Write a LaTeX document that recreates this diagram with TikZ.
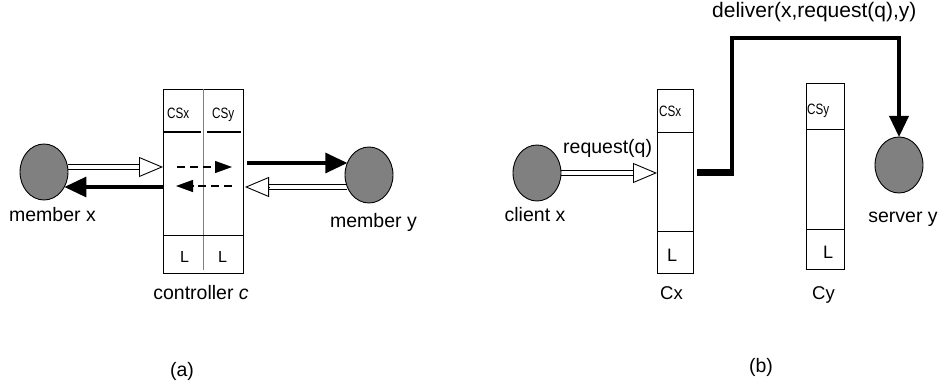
\documentclass[tikz,border=0pt]{standalone}
\usepackage{fontspec}
\setmainfont{Liberation Sans}
\newfontfamily\condfont[FakeStretch=0.78]{Liberation Sans}
\usetikzlibrary{arrows.meta,calc,shapes.geometric}
\tikzset{
  member/.style={ellipse, draw=black, fill=gray, line width=0.9pt, minimum width=48pt, minimum height=56pt, inner sep=0pt, outer sep=0pt},
  boxnode/.style={rectangle, draw=black, line width=0.9pt, inner sep=0pt, outer sep=0pt},
  lbl/.style={font=\fontsize{19.5}{22}\selectfont, inner sep=0pt, anchor=base},
  cslbl/.style={font=\condfont\fontsize{15}{15}\selectfont, inner sep=0pt, anchor=base west},
  llbl/.style={font=\fontsize{16}{16}\selectfont, inner sep=0pt, anchor=base west},
  thickarr/.style={line width=3.2pt, -{Triangle[length=22pt,width=20pt]}},
  dasharr/.style={line width=1.2pt, dash pattern=on 8pt off 5pt, -{Triangle[length=17pt,width=12pt]}},
  headonly/.style={line width=0.9pt, -{Triangle[open,length=24pt,width=20pt]}},
  shaftup/.style={line width=0.9pt, shorten >=24pt, transform canvas={yshift=2.4pt}},
  shaftdn/.style={line width=0.9pt, shorten >=24pt, transform canvas={yshift=-2.4pt}},
}
\begin{document}
\begin{tikzpicture}[x=1pt,y=-1pt]
\useasboundingbox (0,0) rectangle (940,387);
% ---------------- panel (a) ----------------
\node[boxnode, minimum width=80pt, minimum height=184pt] (ctrl) at (203,181) {};
\draw[gray, line width=0.9pt] (ctrl.north) -- ([yshift=3pt]ctrl.south);
\draw[line width=1.8pt] ([yshift=-43pt]ctrl.north west) -- ([yshift=-43pt,xshift=-2pt]ctrl.north);
\draw[line width=1.8pt] ([yshift=-43pt,xshift=4pt]ctrl.north) -- ([yshift=-43pt,xshift=-2pt]ctrl.north east);
\draw[line width=0.9pt] ([yshift=38pt]ctrl.south west) -- ([yshift=38pt]ctrl.south east);
\node[cslbl] (csxa) at (167,119) {CSx};
\node[cslbl] (csya) at (212,119) {CSy};
\node[llbl] (la1) at (180,263) {L};
\node[llbl] (la2) at (218,263) {L};

\node[member] (mx) at (44,172) {};
\node[member] (my) at (369,175) {};
\node[lbl] (mxl) at (52.5,222) {member x};
\node[lbl] (myl) at (373.5,228) {member y};
\node[lbl] (ctl) at (201,300) {controller \textit{c}};

\coordinate (cin) at (163,167);
\coordinate (cout) at (163,187);
\coordinate (d1s) at (177,167);
\coordinate (d1e) at (232,167);
\coordinate (d2s) at (232,186);
\coordinate (d2e) at (176,186);
\coordinate (rout) at (247,163);
\coordinate (rin) at (245,187);

% member x -> controller (hollow double arrow)
\draw[shaftup] (cin -| mx.east) -- (cin);
\draw[shaftdn] (cin -| mx.east) -- (cin);
\draw[headonly] ($(cin)!24.5pt!(cin -| mx.east)$) -- (cin);
% controller -> member x (thick)
\draw[thickarr] (cout) -- (cout -| mx.-36.5);
% dashed inside
\draw[dasharr] (d1s) -- (d1e);
\draw[dasharr] (d2s) -- (d2e);
% controller -> member y (thick)
\draw[thickarr] (rout) -- (rout -| my.151);
% member y -> controller (hollow double arrow)
\draw[shaftup] (rin -| my.209) -- (rin);
\draw[shaftdn] (rin -| my.209) -- (rin);
\draw[headonly] ($(rin)!24.5pt!(rin -| my.209)$) -- (rin);

\node[lbl] (la) at (182,377) {(a)};

% ---------------- panel (b) ----------------
\node[boxnode, minimum width=36pt, minimum height=184pt] (cx) at (675,181) {};
\draw[line width=0.9pt] ([yshift=-43pt]cx.north west) -- ([yshift=-43pt]cx.north east);
\draw[line width=0.9pt] ([yshift=42pt]cx.south west) -- ([yshift=42pt]cx.south east);
\node[boxnode, minimum width=38pt, minimum height=186pt] (cy) at (825,176) {};
\draw[line width=0.9pt] ([yshift=-46pt]cy.north west) -- ([yshift=-46pt]cy.north east);
\draw[line width=0.9pt] ([yshift=40pt]cy.south west) -- ([yshift=40pt]cy.south east);
\node[cslbl] (csxb) at (659,117) {CSx};
\node[cslbl] (csyb) at (807,115) {CSy};
\node[llbl, font=\fontsize{18}{18}\selectfont] (lb1) at (667,262) {L};
\node[llbl, font=\fontsize{18}{18}\selectfont] (lb2) at (823,259) {L};
\node[lbl, anchor=base west, font=\fontsize{18.5}{20}\selectfont] (cxl) at (660,300) {Cx};
\node[lbl, anchor=base west, font=\fontsize{18.5}{20}\selectfont] (cyl) at (812,300) {Cy};

\node[member] (cl) at (537,173) {};
\node[member] (sv) at (899,165) {};
\node[lbl] (cll) at (535,222) {client x};
\node[lbl] (svl) at (903,223) {server y};
\node[lbl, anchor=base west] (rq) at (563,154) {request(q)};
\node[lbl, anchor=base west, font=\fontsize{21}{24}\selectfont] (dl) at (712,18) {deliver(x,request(q),y)};

% client -> Cx (hollow double arrow)
\coordinate (cxin) at (cl.east -| cx.west);
\draw[shaftup] (cl.east) -- (cxin);
\draw[shaftdn] (cl.east) -- (cxin);
\draw[headonly] ($(cxin)!24.5pt!(cl.east)$) -- (cxin);
% Cx -> server (thick path)
\coordinate (cxo) at (697,173);
\coordinate (bend) at (732,38);
\draw[line width=7pt] (cxo) -- ($(cxo -| bend)+(1.75,0)$);
\draw[line width=3.5pt, miter limit=10, -{Triangle[length=21pt,width=19pt]}] ($(cxo -| bend)+(0,3.5)$) |- (bend -| sv.north) -- (sv.north);

\node[lbl] (lb) at (761,372) {(b)};
\end{tikzpicture}
\end{document}
